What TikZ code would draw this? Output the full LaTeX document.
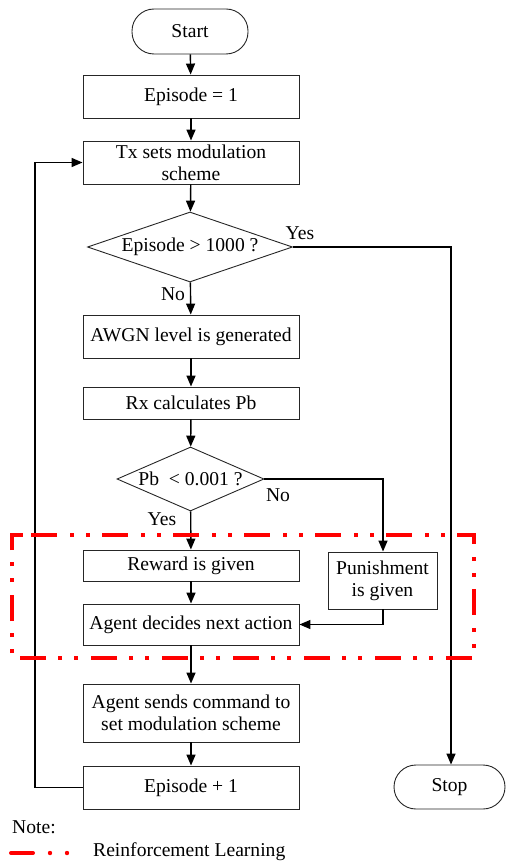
\documentclass[tikz,border=0pt]{standalone}
\usepackage{fontspec}
\setmainfont{Liberation Serif}
\usetikzlibrary{shapes.geometric,arrows.meta}
\begin{document}
\begin{tikzpicture}[x=1pt,y=-1pt,
  font=\fontsize{19.6}{23}\selectfont,
  box/.style={draw=black!85,line width=0.9pt,rectangle,inner sep=0pt,align=center,minimum width=216pt},
  term/.style={draw=black!85,line width=0.9pt,rectangle,rounded corners=22pt,inner sep=0pt},
  dec/.style={draw=black!85,line width=0.9pt,diamond,inner sep=0pt,shape aspect=2.9},
  conn/.style={line width=1.4pt,-{Triangle[length=11pt,width=9pt]}},
  lbl/.style={inner sep=0pt,anchor=base}]
\path[use as bounding box] (0,0) rectangle (506,861);

\node[term,minimum width=116pt,minimum height=45pt] (start) at (190,31.5) {Start};
\node[box,minimum height=43pt] (ep1) at (191,96.5) {Episode = 1};
\node[box,minimum height=43pt] (tx) at (191,162.5) {Tx sets modulation\\[-1pt]scheme};
\node[dec,minimum width=205pt,minimum height=70pt] (d1) at (190,247) {Episode > 1000 ?};
\node[box,minimum height=43pt] (awgn) at (191,336.5) {AWGN level is generated};
\node[box,minimum height=32pt] (rx) at (191,403) {Rx calculates Pb};
\node[dec,minimum width=147pt,minimum height=64pt,shape aspect=2.3] (d2) at (190.5,479) {Pb \ < 0.001 ?};
\node[box,minimum height=31pt] (rew) at (191,565.5) {Reward is given};
\node[box,minimum width=109pt,minimum height=57pt] (pun) at (382.5,580.5) {Punishment\\[-1pt]is given};
\node[box,minimum height=41pt] (dec) at (191,624.5) {Agent decides next action};
\node[box,minimum height=58pt] (send) at (191,713) {Agent sends command to\\[-1pt]set modulation scheme};
\node[box,minimum height=43pt] (epp) at (191,787.5) {Episode + 1};
\node[term,minimum width=111pt,minimum height=44pt] (stop) at (449.5,787) {Stop};

\coordinate (c1) at (451,247);
\coordinate (c2) at (383,479);
\coordinate (c3) at (383,624.5);
\coordinate (c4) at (35,787.5);
\coordinate (c5) at (35,162.5);

\draw[conn] (start) -- (ep1);
\draw[conn] (ep1) -- (tx);
\draw[conn] (tx) -- (d1);
\draw[conn] (d1) -- (awgn);
\draw[conn] (d1.east) -- (c1) -- (stop.north -| c1);
\draw[conn] (awgn) -- (rx);
\draw[conn] (rx) -- (d2);
\draw[conn] (d2) -- (rew);
\draw[conn] (d2.east) -- (c2) -- (pun.north -| c2);
\draw[conn] (rew) -- (dec);
\draw[conn] (pun.south -| c3) -- (c3) -- (dec.east);
\draw[conn] (dec) -- (send);
\draw[conn] (send) -- (epp);
\draw[conn] (epp.west) -- (c4) -- (c5) -- (tx.west);

\node[lbl] (yes1) at (300,239) {Yes};
\node[lbl] (no1) at (173,300) {No};
\node[lbl] (no2) at (278,501) {No};
\node[lbl] (yes2) at (162,525) {Yes};

\draw[red,line width=4pt,dash pattern=on 26pt off 13pt on 4pt off 12pt on 4pt off 12pt,dash phase=0pt]
  (31,535) -- (474,535) -- (474,658) -- (12,658) -- (12,535) -- (31,535);

\node[inner sep=0pt,anchor=base west] (note) at (12,833) {Note:};
\draw[red,line width=4pt,line cap=round] (11,853) -- (33,853);
\fill[red] (50,853) circle (2.2pt) (67,853) circle (2.2pt);
\node[inner sep=0pt,anchor=base west] (rl) at (93,856) {Reinforcement Learning};
\end{tikzpicture}
\end{document}
